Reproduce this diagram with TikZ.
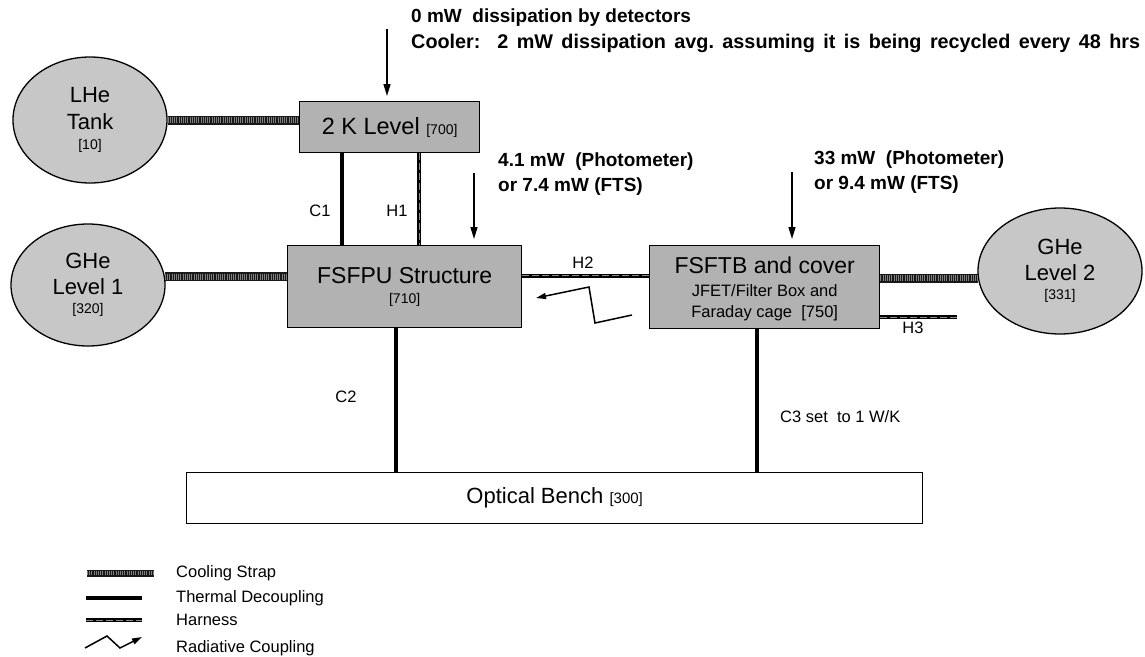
\documentclass[tikz,border=0pt]{standalone}
\usepackage{fontspec}
\setmainfont{Liberation Sans}
\usetikzlibrary{shapes.geometric,arrows.meta,calc}
\newcommand\myfs[2]{\fontsize{#1}{#2}\selectfont}
\begin{document}
\begin{tikzpicture}[x=1pt,y=-1pt,
  box/.style={draw, line width=1.3pt, fill=black!30, inner sep=0pt, anchor=north west, align=center},
  oval/.style={ellipse, draw, line width=1.3pt, fill=black!22, inner sep=0pt, align=center},
  strap/.style={line width=9pt, draw=black!90, postaction={draw=black!50, line width=6pt, dash pattern=on 1pt off 1.2pt}},
  thermal/.style={line width=4.5pt, draw=black},
  harness/.style={line width=4pt, draw=black, postaction={draw=black!45, line width=0.9pt, dash pattern=on 7pt off 3pt}},
  heat/.style={line width=1.5pt, -{Triangle[length=12pt,width=7pt]}},
  radiative/.style={line width=1.5pt, -{Triangle[length=10pt,width=6pt]}},
  lbl/.style={inner sep=0pt, font=\myfs{16.5}{19}},
  btxt/.style={inner sep=0pt, font=\bfseries\myfs{19}{25}, align=left, anchor=west},
  legtxt/.style={inner sep=0pt, font=\myfs{16.5}{19}, anchor=west},
]
\useasboundingbox (0,0) rectangle (1145,656);

% nodes
\node[oval, minimum width=154, minimum height=126, font=\myfs{22}{27}] (lhe) at (90,120)
  {LHe\\Tank\\[-7pt]{\myfs{14}{16}[10]}};
\node[oval, minimum width=154, minimum height=122, font=\myfs{22}{26}] (ghe1) at (88,285)
  {GHe\\Level 1\\[-7pt]{\myfs{14}{16}[320]}};
\node[oval, minimum width=164, minimum height=126, font=\myfs{22}{26}] (ghe2) at (1060,271)
  {GHe\\Level 2\\[-7pt]{\myfs{14}{16}[331]}};

\node[box, minimum width=180, minimum height=51, font=\myfs{23.5}{26}] (twok) at (299,101)
  {2 K Level {\myfs{14}{16}[700]}};
\node[box, minimum width=234, minimum height=82, font=\myfs{23}{26}] (fsfpu) at (287,245)
  {FSFPU Structure\\[-6pt]{\myfs{14}{16}[710]}};
\node[box, minimum width=230, minimum height=83, font=\myfs{23}{25}, text depth=0pt] (fsftb) at (649,245)
  {FSFTB and cover\\[-2pt]{\myfs{16.5}{21}JFET/Filter Box and}\\[-4pt]{\myfs{16.5}{21}Faraday cage\ \ [750]}};
\node[box, fill=white, minimum width=736, minimum height=51, font=\myfs{22}{26}] (bench) at (186,472)
  {Optical Bench {\myfs{15}{16}[300]}};

% heat loads text
\node[btxt] (t1) at (411,18) {0 mW\ \ dissipation by detectors};
\node[btxt, font=\bfseries\myfs{19.8}{25}] (t2) at (411,43) {\frenchspacing\makebox[729pt][s]{Cooler:\ \ 2 mW dissipation avg. assuming it is being recycled every 48 hrs}};
\node[btxt] (p1) at (498,174) {4.1 mW\ \ (Photometer)\\or 7.4 mW (FTS)};
\node[btxt] (p2) at (814,172) {33 mW\ \ (Photometer)\\or 9.4 mW (FTS)};

% arrows of heat loads
\coordinate (a1) at (387,29);
\coordinate (a2) at (474,173);
\coordinate (a3) at (792,172);
\draw[heat, shorten >=5pt] (a1) -- (a1 |- twok.north);
\draw[heat, shorten >=6pt] (a2) -- (a2 |- fsfpu.north);
\draw[heat, shorten >=6pt] (a3) -- (a3 |- fsftb.north);

% cooling straps
\draw[strap] (lhe.east) -- (lhe.east -| twok.west);
\draw[strap] (ghe1.6) -- (ghe1.6 -| fsfpu.west);
\draw[strap] (ghe2.185 -| fsftb.east) -- (ghe2.185);

% thermal decouplings
\draw[thermal] ([xshift=43pt]twok.south west) -- ([xshift=43pt]twok.south west |- fsfpu.north);
\draw[thermal] ([xshift=109pt]fsfpu.south west) -- ([xshift=109pt]fsfpu.south west |- bench.north);
\draw[thermal] ([xshift=108pt]fsftb.south west) -- ([xshift=108pt]fsftb.south west |- bench.north);

% harnesses
\draw[harness] ([xshift=120pt]twok.south west) -- ([xshift=120pt]twok.south west |- fsfpu.north);
\draw[harness] ([yshift=11pt]fsfpu.east) -- ([yshift=11pt]fsfpu.east -| fsftb.west);
\coordinate (h3end) at (957,317);
\draw[harness] (h3end -| fsftb.east) -- (h3end);

% radiative coupling
\coordinate (r0) at (632,315);
\coordinate (r1) at (595,323);
\coordinate (r2) at (589,287);
\coordinate (r3) at (536,298);
\draw[radiative] (r0) -- (r1) -- (r2) -- (r3);

% labels
\node[lbl] (lc1) at (320,211) {C1};
\node[lbl] (lh1) at (397,211) {H1};
\node[lbl] (lh2) at (583,263) {H2};
\node[lbl] (lh3) at (913,328) {H3};
\node[lbl] (lc2) at (346,397) {C2};
\node[lbl, anchor=west] (lc3) at (780,417) {C3 set\ \ to 1 W/K};

% legend
\coordinate (g1a) at (87,573); \coordinate (g1b) at (154,573);
\coordinate (g2a) at (86,598); \coordinate (g2b) at (142,598);
\coordinate (g3a) at (86,620); \coordinate (g3b) at (142,620);
\coordinate (g4a) at (85,648); \coordinate (g4b) at (107,636);
\coordinate (g4c) at (120,648); \coordinate (g4d) at (142,637);
\draw[line width=7pt, draw=black!90, postaction={draw=black!50, line width=4.5pt, dash pattern=on 1pt off 1.2pt}] (g1a) -- (g1b);
\draw[thermal] (g2a) -- (g2b);
\draw[harness] (g3a) -- (g3b);
\draw[radiative] (g4a) -- (g4b) -- (g4c) -- (g4d);
\node[legtxt] (l1) at (176,573) {Cooling Strap};
\node[legtxt] (l2) at (176,598) {Thermal Decoupling};
\node[legtxt] (l3) at (176,620) {Harness};
\node[legtxt] (l4) at (176,648) {Radiative Coupling};
\end{tikzpicture}
\end{document}
